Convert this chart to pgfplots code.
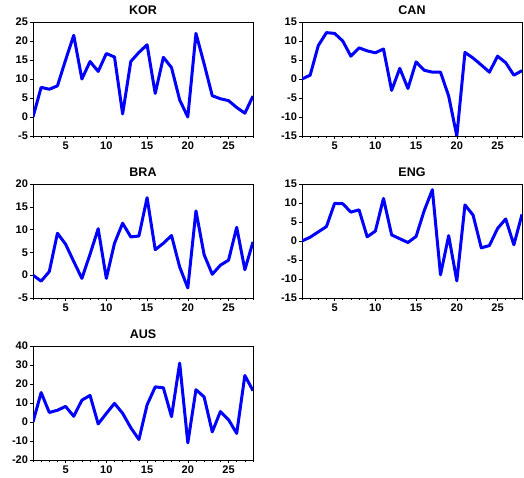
\documentclass[border=0pt]{standalone}
\usepackage{fontspec}
\setmainfont{Liberation Sans}
\usepackage{pgfplots}
\pgfplotsset{compat=1.18}
\pgfplotsset{
  panel/.style={
    width=220pt, height=114pt, scale only axis,
    xmin=1, xmax=28,
    xtick={5,10,15,20,25},
    minor xtick={1,...,28},
    tick align=outside,
    xtick pos=bottom, ytick pos=left,
    major tick length=3pt, minor tick length=2pt,
    tick style={black, line width=0.6pt},
    axis line style={black, line width=0.8pt},
    ticklabel style={font=\fontsize{11}{11}\selectfont\bfseries},
    /pgf/number format/assume math mode=true,
    xticklabel style={yshift=1pt},
    yticklabel style={xshift=1.5pt},
    title style={font=\fontsize{12.5}{13}\selectfont\bfseries, at={(0.5,1)}, anchor=south, yshift=-2pt},
    anchor=south west,
  },
  ser/.style={blue, line width=3pt, line join=round, no markers},
}
\begin{document}
\begin{tikzpicture}
\useasboundingbox (0pt,0pt) rectangle (524pt,477pt);
\begin{axis}[panel, at={(33pt,341pt)}, title={KOR}, ymin=-5, ymax=25, ytick={-5,0,...,25}]
\addplot[ser] coordinates {(1,0)(2,7.8)(3,7.3)(4,8.2)(5,15)(6,21.5)(7,10)(8,14.6)(9,12)(10,16.7)(11,15.8)(12,0.8)(13,14.6)(14,17)(15,19)(16,6.2)(17,15.7)(18,13)(19,4.5)(20,0)(21,22)(22,14)(23,5.6)(24,4.8)(25,4.3)(26,2.5)(27,1)(28,5.5)};
\end{axis}
\begin{axis}[panel, at={(302pt,341pt)}, title={CAN}, ymin=-15, ymax=15, ytick={-15,-10,...,15}]
\addplot[ser] coordinates {(1,0)(2,1)(3,8.8)(4,12.2)(5,12)(6,10)(7,6)(8,8.2)(9,7.4)(10,6.9)(11,7.9)(12,-3)(13,2.8)(14,-2.5)(15,4.5)(16,2.3)(17,1.8)(18,1.8)(19,-4.5)(20,-15)(21,7)(22,5.5)(23,3.7)(24,1.8)(25,6)(26,4.3)(27,1)(28,2.2)};
\end{axis}
\begin{axis}[panel, at={(33pt,179pt)}, title={BRA}, ymin=-5, ymax=20, ytick={-5,0,...,20}]
\addplot[ser] coordinates {(1,0)(2,-1.3)(3,0.8)(4,9.2)(5,6.8)(6,3)(7,-0.7)(8,4.6)(9,10.2)(10,-0.7)(11,7)(12,11.4)(13,8.4)(14,8.6)(15,17)(16,5.6)(17,7)(18,8.7)(19,1.8)(20,-2.8)(21,14.1)(22,4.5)(23,0.2)(24,2.2)(25,3.3)(26,10.5)(27,1.2)(28,7.3)};
\end{axis}
\begin{axis}[panel, at={(302pt,179pt)}, title={ENG}, ymin=-15, ymax=15, ytick={-15,-10,...,15}]
\addplot[ser] coordinates {(1,0)(2,1)(3,2.4)(4,3.8)(5,9.9)(6,9.8)(7,7.6)(8,8.2)(9,1.1)(10,2.6)(11,11.2)(12,1.6)(13,0.6)(14,-0.4)(15,1.2)(16,8)(17,13.5)(18,-8.9)(19,1.4)(20,-10.5)(21,9.5)(22,6.8)(23,-1.8)(24,-1.2)(25,3.3)(26,5.8)(27,-1)(28,7)};
\end{axis}
\begin{axis}[panel, at={(33pt,17pt)}, title={AUS}, ymin=-20, ymax=40, ytick={-20,-10,...,40}]
\addplot[ser] coordinates {(1,0)(2,15.5)(3,5)(4,6.2)(5,8.2)(6,3)(7,11.5)(8,14)(9,-1)(10,4.5)(11,9.8)(12,4.6)(13,-3)(14,-9.2)(15,9)(16,18.5)(17,18)(18,2.8)(19,31)(20,-11)(21,17)(22,13.2)(23,-5.2)(24,5.5)(25,1.2)(26,-6)(27,24.5)(28,16.5)};
\end{axis}
\end{tikzpicture}
\end{document}
